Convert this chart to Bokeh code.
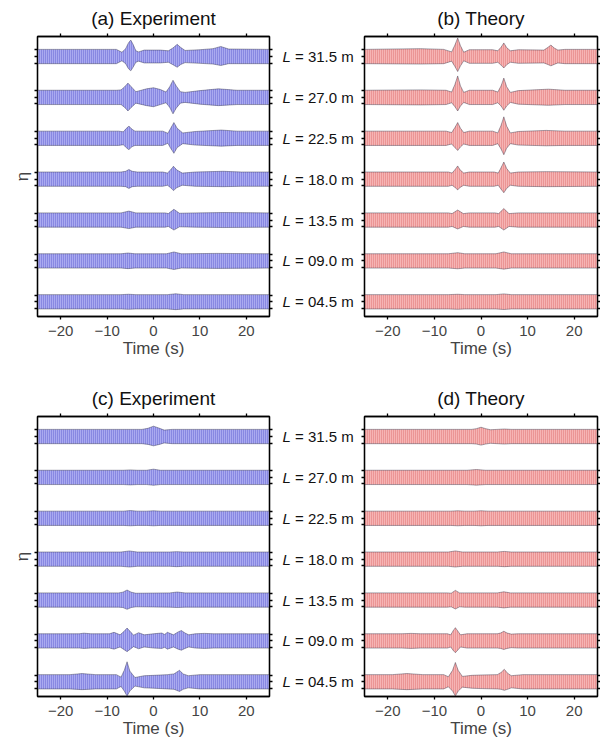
from bokeh.plotting import figure
from bokeh.models import Range1d, LinearAxis, FixedTicker, ColumnDataSource, CustomLabelingPolicy
from bokeh.layouts import row, column
from bokeh.embed import file_html
from bokeh.resources import INLINE
from bokeh.core.properties import value

# ---------------- data ----------------
TITLES = ["(a) Experiment", "(b) Theory", "(c) Experiment", "(d) Theory"]
L_LABELS = ["31.5", "27.0", "22.5", "18.0", "13.5", "09.0", "04.5"]   # top to bottom
X_TICKS = [-20, -10, 0, 10, 20]
X_TICK_LABELS = ["\u221220", "\u221210", "0", "10", "20"]

# wave envelopes: (time s, upper amplitude, lower amplitude), relative to carrier amplitude
ENV_A = {
    "31.5": [(-25, 1, 1), (-8.0, 1, 1), (-6.8, 0.6, 0.6), (-6.0, 1.1, 1.0), (-5.4, 1.9, 1.7), (-4.9, 2.3, 2.0),
             (-4.4, 1.7, 1.5), (-3.8, 0.8, 0.8), (-3.2, 0.65, 0.65), (-2, 0.9, 0.9), (1.5, 0.9, 0.9),
             (3.2, 0.8, 0.8), (4.2, 1.2, 1.15), (5.1, 1.7, 1.5), (5.9, 1.25, 1.1), (6.8, 0.85, 0.85),
             (10, 0.95, 0.95), (12.8, 1.1, 1.05), (14.5, 1.4, 1.25), (16.2, 1.05, 1.0), (25, 1, 1)],
    "27.0": [(-25, 1, 1), (-8.0, 1, 1), (-7.0, 1.05, 1.0), (-6.2, 1.5, 1.4), (-5.5, 2.0, 1.9), (-4.8, 1.5, 1.4),
             (-3.8, 0.8, 0.8), (-1.5, 1.2, 1.15), (0.0, 1.35, 1.3), (1.5, 1.1, 1.0), (2.7, 0.75, 0.75),
             (3.5, 1.5, 1.4), (4.2, 2.4, 2.3), (4.9, 1.6, 1.5), (5.8, 0.8, 0.8), (6.8, 0.7, 0.7),
             (10, 0.95, 0.95), (14, 1.2, 1.15), (18, 1.0, 1.0), (25, 1, 1)],
    "22.5": [(-25, 1, 1), (-7.5, 1, 1), (-6.5, 0.9, 0.9), (-5.9, 1.35, 1.3), (-5.3, 1.7, 1.6), (-4.7, 1.3, 1.2),
             (-4.0, 1.0, 1.0), (2.0, 1.0, 1.0), (3.1, 0.7, 0.7), (3.7, 1.4, 1.4), (4.4, 2.2, 2.1),
             (5.1, 1.4, 1.3), (6.3, 0.75, 0.75), (9, 0.95, 0.95), (14.6, 1.15, 1.1), (18, 1.0, 1.0), (25, 1, 1)],
    "18.0": [(-25, 1, 1), (-7.0, 1, 1), (-6.0, 1.1, 1.05), (-5.3, 1.35, 1.3), (-4.6, 1.1, 1.05), (-3.5, 1.0, 1.0),
             (2.0, 1.0, 1.0), (3.0, 0.85, 0.85), (3.7, 1.3, 1.2), (4.3, 1.8, 1.6), (5.0, 1.3, 1.2),
             (6.2, 0.85, 0.85), (9, 1.0, 1.0), (15, 1.1, 1.05), (19, 1.0, 1.0), (25, 1, 1)],
    "13.5": [(-25, 1, 1), (-7.0, 1, 1), (-5.3, 1.25, 1.2), (-3.8, 1.0, 1.0), (2.5, 1.0, 1.0), (3.2, 0.9, 0.9),
             (4.4, 1.5, 1.4), (5.6, 0.95, 0.95), (9, 1.0, 1.0), (15, 1.05, 1.05), (25, 1, 1)],
    "09.0": [(-25, 1, 1), (-7.0, 1, 1), (-5.5, 1.1, 1.08), (-4.0, 1.0, 1.0), (2.8, 1.0, 1.0),
             (4.4, 1.25, 1.2), (6.0, 1.0, 1.0), (13.7, 1.05, 1.05), (25, 1, 1)],
    "04.5": [(-25, 1, 1), (-7.0, 1, 1), (-5.4, 1.05, 1.05), (-3.8, 1.0, 1.0), (3.0, 1.0, 1.0),
             (4.8, 1.12, 1.1), (6.5, 1.0, 1.0), (25, 1, 1)],
}
ENV_B = {
    "31.5": [(-25, 1, 1), (-13, 1.1, 1.05), (-8.0, 1.0, 1.0), (-6.3, 0.65, 0.65), (-5.6, 1.6, 1.4), (-5.0, 2.6, 2.1),
             (-4.4, 1.5, 1.3), (-3.7, 0.6, 0.6), (-2.5, 0.95, 0.95), (2.5, 0.95, 0.95), (3.6, 0.8, 0.8),
             (4.3, 1.3, 1.2), (4.9, 1.9, 1.6), (5.5, 1.25, 1.15), (6.3, 0.8, 0.8), (8, 0.95, 0.95),
             (13.5, 0.9, 0.9), (14.3, 1.25, 1.1), (15.0, 1.6, 1.3), (15.7, 1.2, 1.1), (16.5, 0.9, 0.9),
             (18, 1.0, 1.0), (25, 1, 1)],
    "27.0": [(-25, 1, 1), (-13, 1.05, 1.05), (-7.5, 1.0, 1.0), (-6.3, 0.75, 0.75), (-5.6, 1.8, 1.3), (-5.0, 3.0, 1.9),
             (-4.4, 1.6, 1.2), (-3.7, 0.7, 0.7), (-2.5, 1.0, 1.0), (2.5, 1.0, 1.0), (3.6, 0.75, 0.75),
             (4.3, 1.6, 1.2), (4.9, 2.7, 1.8), (5.5, 1.5, 1.2), (6.3, 0.7, 0.7), (8, 0.95, 0.95),
             (14.5, 1.15, 1.1), (18, 1.0, 1.0), (25, 1, 1)],
    "22.5": [(-25, 1, 1), (-7.5, 1.0, 1.0), (-6.3, 0.8, 0.8), (-5.6, 1.5, 1.3), (-5.0, 2.2, 1.7), (-4.4, 1.4, 1.2),
             (-3.7, 0.8, 0.8), (-2.5, 1.0, 1.0), (2.5, 1.0, 1.0), (3.6, 0.75, 0.75), (4.3, 1.8, 1.5),
             (4.9, 3.0, 2.3), (5.5, 1.7, 1.4), (6.3, 0.75, 0.75), (8, 0.95, 0.95), (14, 1.1, 1.05),
             (18, 1.0, 1.0), (25, 1, 1)],
    "18.0": [(-25, 1, 1), (-7.0, 1.0, 1.0), (-6.2, 0.85, 0.85), (-5.5, 1.4, 1.2), (-5.0, 1.85, 1.5), (-4.5, 1.3, 1.15),
             (-3.7, 0.85, 0.85), (-2.5, 1.0, 1.0), (2.8, 1.0, 1.0), (3.7, 0.85, 0.85), (4.3, 1.6, 1.4),
             (4.9, 2.4, 1.9), (5.5, 1.5, 1.3), (6.3, 0.85, 0.85), (8, 1.0, 1.0), (14, 1.05, 1.05), (25, 1, 1)],
    "13.5": [(-25, 1, 1), (-7.0, 1.0, 1.0), (-6.2, 0.9, 0.9), (-5.0, 1.4, 1.25), (-3.8, 0.9, 0.9), (-2.5, 1.0, 1.0),
             (3.0, 1.0, 1.0), (3.8, 0.9, 0.9), (4.9, 1.6, 1.4), (6.0, 0.9, 0.9), (8, 1.0, 1.0), (25, 1, 1)],
    "09.0": [(-25, 1, 1), (-7.0, 1.0, 1.0), (-5.0, 1.15, 1.1), (-3.5, 1.0, 1.0), (3.2, 1.0, 1.0),
             (4.9, 1.25, 1.15), (6.5, 1.0, 1.0), (25, 1, 1)],
    "04.5": [(-25, 1, 1), (-7.0, 1.0, 1.0), (-5.0, 1.05, 1.05), (-3.5, 1.0, 1.0), (3.2, 1.0, 1.0),
             (4.9, 1.1, 1.08), (6.5, 1.0, 1.0), (25, 1, 1)],
}
ENV_C = {
    "31.5": [(-25, 1, 1), (-2.5, 1.0, 1.0), (-1.2, 1.15, 1.1), (0.0, 1.45, 1.3), (1.3, 1.15, 1.1), (2.3, 0.9, 0.9),
             (4, 1.0, 1.0), (25, 1, 1)],
    "27.0": [(-25, 1, 1), (-6.5, 1.0, 1.0), (-5.0, 1.05, 1.05), (-3.5, 1.0, 1.0), (-1.5, 1.0, 1.0),
             (0.0, 1.15, 1.1), (1.5, 1.0, 1.0), (25, 1, 1)],
    "22.5": [(-25, 1, 1), (-6.5, 1.0, 1.0), (-5.0, 1.08, 1.05), (-3.5, 1.0, 1.0), (-1.5, 1.0, 1.0),
             (0.0, 1.05, 1.05), (1.5, 1.0, 1.0), (25, 1, 1)],
    "18.0": [(-25, 1, 1), (-7.0, 1.0, 1.0), (-5.2, 1.15, 1.1), (-3.5, 1.0, 1.0), (3.5, 1.0, 1.0),
             (5.0, 1.05, 1.05), (6.5, 1.0, 1.0), (25, 1, 1)],
    "13.5": [(-25, 1, 1), (-7.5, 1.0, 1.0), (-6.6, 1.1, 1.05), (-5.7, 1.4, 1.3), (-4.8, 1.1, 1.05), (-3.8, 0.95, 0.95),
             (3.5, 1.0, 1.0), (5.1, 1.12, 1.05), (6.8, 1.0, 1.0), (25, 1, 1)],
    "09.0": [(-25, 1, 1), (-16, 1.0, 1.0), (-15, 1.08, 1.05), (-13.5, 1.0, 1.0), (-9.5, 1.0, 1.0),
             (-8.5, 1.2, 1.15), (-7.2, 0.85, 0.85), (-6.4, 1.3, 1.2), (-5.7, 1.8, 1.5), (-5.0, 1.3, 1.15),
             (-4.3, 0.8, 0.8), (-3.2, 1.15, 1.1), (-2.0, 0.85, 0.85), (0.0, 1.0, 1.0), (1.8, 1.1, 1.05),
             (2.4, 0.9, 0.9), (3.0, 1.2, 1.15), (4.3, 0.85, 0.85), (5.3, 1.25, 1.15), (6.0, 1.45, 1.3),
             (6.8, 1.1, 1.05), (7.6, 0.85, 0.85), (9, 1.0, 1.0), (11, 1.05, 1.05), (13, 1.0, 1.0), (25, 1, 1)],
    "04.5": [(-25, 1, 1), (-18, 1.0, 1.0), (-15.4, 1.15, 1.1), (-12.5, 1.0, 1.0), (-8.0, 1.0, 1.0),
             (-7.0, 0.65, 0.65), (-6.3, 1.6, 1.3), (-5.7, 2.8, 2.0), (-5.1, 1.5, 1.3), (-4.0, 0.6, 0.6),
             (-2.0, 0.85, 0.85), (0.0, 0.9, 0.9), (3.0, 1.0, 1.0), (4.4, 1.1, 1.05), (5.6, 1.6, 1.35),
             (6.4, 1.1, 1.05), (7.5, 0.85, 0.85), (10, 1.0, 1.0), (25, 1, 1)],
}
ENV_D = {
    "31.5": [(-25, 1, 1), (-2.0, 1.0, 1.0), (-1.0, 1.1, 1.05), (0.0, 1.3, 1.2), (1.0, 1.1, 1.05), (2.0, 0.95, 0.95),
             (3.5, 1.0, 1.0), (5.0, 1.05, 1.05), (6.5, 1.0, 1.0), (25, 1, 1)],
    "27.0": [(-25, 1, 1), (-3.0, 1.0, 1.0), (-1.0, 1.1, 1.08), (1.0, 1.0, 1.0), (25, 1, 1)],
    "22.5": [(-25, 1, 1), (-6.5, 1.0, 1.0), (-5.0, 1.05, 1.05), (-3.5, 1.0, 1.0), (-1.5, 1.0, 1.0),
             (0.0, 1.05, 1.05), (1.5, 1.0, 1.0), (25, 1, 1)],
    "18.0": [(-25, 1, 1), (-7.0, 1.0, 1.0), (-5.5, 1.15, 1.1), (-4.0, 1.0, 1.0), (3.5, 1.0, 1.0),
             (5.0, 1.08, 1.05), (6.5, 1.0, 1.0), (25, 1, 1)],
    "13.5": [(-25, 1, 1), (-7.2, 1.0, 1.0), (-6.4, 0.95, 0.95), (-5.5, 1.35, 1.25), (-4.6, 1.0, 0.95),
             (-3.5, 1.0, 1.0), (3.5, 1.0, 1.0), (4.9, 1.15, 1.1), (6.3, 1.0, 1.0), (25, 1, 1)],
    "09.0": [(-25, 1, 1), (-17, 1.0, 1.0), (-15, 1.05, 1.05), (-13, 1.0, 1.0), (-7.2, 1.0, 1.0),
             (-6.5, 0.85, 0.85), (-6.0, 1.4, 1.3), (-5.5, 1.85, 1.65), (-5.0, 1.4, 1.3), (-4.4, 0.85, 0.85),
             (-3.0, 1.0, 1.0), (3.5, 1.0, 1.0), (4.2, 1.1, 1.05), (4.9, 1.35, 1.2), (5.6, 1.1, 1.05),
             (6.5, 0.95, 0.95), (8, 1.0, 1.0), (25, 1, 1)],
    "04.5": [(-25, 1, 1), (-19, 1.0, 1.0), (-15.9, 1.15, 1.1), (-12.5, 1.0, 1.0), (-8.0, 1.0, 1.0),
             (-7.0, 0.7, 0.7), (-6.1, 1.6, 1.3), (-5.5, 2.7, 2.0), (-4.9, 1.6, 1.3), (-4.0, 0.75, 0.75),
             (-2.0, 0.9, 0.9), (0.0, 0.95, 0.95), (3.5, 1.0, 1.0), (4.3, 1.3, 1.05), (5.0, 1.75, 1.2),
             (5.7, 1.2, 1.05), (6.5, 0.85, 0.85), (9, 1.0, 1.0), (25, 1, 1)],
}

# ---------------- styling / layout ----------------
FONT = "Liberation Sans"
A0 = 0.175          # carrier amplitude in trace-spacing units
TICK_OFF = 0.16
Y0, Y1 = 0.64, 7.49
CENTERS = [7 - i for i in range(len(L_LABELS))]
Y_TICKS = sorted([c + d for c in CENTERS for d in (-TICK_OFF, 0.0, TICK_OFF)])
BLUE = dict(fill="#aaaaf0", hatch="#5a5ad0")
RED = dict(fill="#f6b4b4", hatch="#dc6a6a")


def style_axis(ax, labels):
    ax.axis_line_color = "black"
    ax.axis_line_width = 1.3
    ax.major_tick_line_color = "black"
    ax.major_tick_line_width = 1.3
    ax.major_tick_in = 0
    ax.major_tick_out = 3
    ax.minor_tick_line_color = None
    if not labels:
        ax.major_label_policy = CustomLabelingPolicy(code="return new Set()")
        ax.major_label_text_font_size = "0px"
        ax.major_label_standoff = 0


def panel(title, env, colors, w, h, bl, br, bt, bb, eta):
    p = figure(width=w, height=h, x_range=Range1d(-25, 25), y_range=Range1d(Y0, Y1),
               output_backend="svg", toolbar_location=None,
               x_axis_location=None, y_axis_location=None,
               min_border_left=bl, min_border_right=br, min_border_top=bt, min_border_bottom=bb)
    p.title.text = title
    p.title.align = "center"
    p.title.text_font = FONT
    p.title.text_font_size = "19px"
    p.title.text_font_style = "normal"
    p.title.text_color = "#111111"
    p.title.standoff = 10
    p.grid.visible = False
    p.outline_line_color = "black"
    p.outline_line_width = 1.3
    p.background_fill_color = "white"
    p.border_fill_color = "white"

    bottom = LinearAxis(ticker=FixedTicker(ticks=X_TICKS),
                        major_label_overrides=dict(zip(X_TICKS, X_TICK_LABELS)))
    style_axis(bottom, True)
    bottom.major_label_text_font = FONT
    bottom.major_label_text_font_size = "15px"
    bottom.major_label_standoff = 6
    bottom.axis_label = "Time (s)"
    bottom.axis_label_text_font = FONT
    bottom.axis_label_text_font_size = "17px"
    bottom.axis_label_text_font_style = "normal"
    bottom.axis_label_standoff = 0
    p.add_layout(bottom, "below")

    top = LinearAxis(ticker=FixedTicker(ticks=X_TICKS))
    style_axis(top, False)
    p.add_layout(top, "above")

    left = LinearAxis(ticker=FixedTicker(ticks=Y_TICKS))
    style_axis(left, False)
    if eta:
        left.axis_label = "\u03b7"
        left.axis_label_text_font = FONT
        left.axis_label_text_font_size = "17px"
        left.axis_label_text_font_style = "normal"
        left.axis_label_standoff = 3
    p.add_layout(left, "left")

    right = LinearAxis(ticker=FixedTicker(ticks=Y_TICKS))
    style_axis(right, False)
    p.add_layout(right, "right")

    for lab, c in zip(L_LABELS, CENTERS):
        pts = env[lab]
        t = [q[0] for q in pts]
        up = [c + q[1] * A0 for q in pts]
        dn = [c - q[2] * A0 for q in pts]
        src = ColumnDataSource(dict(t=t, up=up, dn=dn))
        p.varea(x="t", y1="dn", y2="up", source=src, fill_color=colors["fill"],
                hatch_pattern="vertical_line", hatch_color=colors["hatch"],
                hatch_scale=2.0, hatch_weight=0.85)
        p.line(x="t", y="up", source=src, line_color="#3c3c50", line_width=0.6, line_alpha=0.75)
        p.line(x="t", y="dn", source=src, line_color="#3c3c50", line_width=0.6, line_alpha=0.75)
    return p


def middle(w, h, bt, bb):
    m = figure(width=w, height=h, x_range=Range1d(0, w), y_range=Range1d(Y0, Y1),
               output_backend="svg", toolbar_location=None,
               x_axis_location=None, y_axis_location=None,
               min_border_left=0, min_border_right=0, min_border_top=bt, min_border_bottom=bb)
    m.grid.visible = False
    m.outline_line_color = None
    src = ColumnDataSource(dict(y=CENTERS, l=["L"] * len(CENTERS),
                                r=["= " + s + " m" for s in L_LABELS]))
    m.text(x=7, y="y", text="l", source=src, text_font=value(FONT), text_font_size="15px",
           text_font_style="italic", text_baseline="middle", text_align="left", text_color="#111111")
    m.text(x=19.5, y="y", text="r", source=src, text_font=value(FONT), text_font_size="15px",
           text_baseline="middle", text_align="left", text_color="#111111")
    return m


H1, H2 = 380, 364
pa = panel(TITLES[0], ENV_A, BLUE, 275, H1, 37, 6, 36, 64, True)
ma = middle(83, H1, 36, 64)
pb = panel(TITLES[1], ENV_B, RED, 242, H1, 6, 3, 36, 64, False)
pc = panel(TITLES[2], ENV_C, BLUE, 275, H2, 37, 6, 36, 48, True)
mc = middle(83, H2, 36, 48)
pd = panel(TITLES[3], ENV_D, RED, 242, H2, 6, 3, 36, 48, False)

layout = column(row(pa, ma, pb, spacing=0), row(pc, mc, pd, spacing=0), spacing=0)
open("out.html", "w").write(file_html(layout, INLINE))
